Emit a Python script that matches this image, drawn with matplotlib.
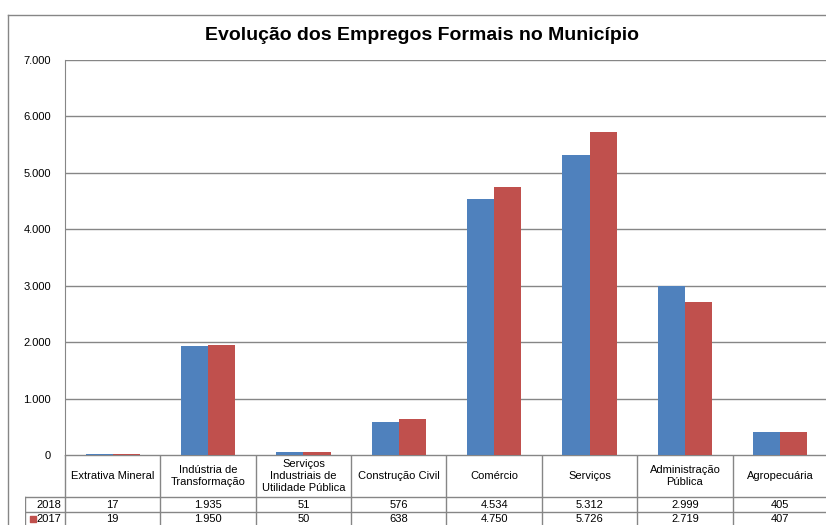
import matplotlib.pyplot as plt
import numpy as np

plt.rcParams['font.family'] = ['Liberation Sans', 'DejaVu Sans']

categorias = ['Extrativa Mineral', 'Indústria de\nTransformação',
              'Serviços\nIndustriais de\nUtilidade Pública', 'Construção Civil',
              'Comércio', 'Serviços', 'Administração\nPública', 'Agropecuária']
anos = ['2018', '2017']
v2018 = [17, 1935, 51, 576, 4534, 5312, 2999, 405]
v2017 = [19, 1950, 50, 638, 4750, 5726, 2719, 407]
yticks = [0, 1000, 2000, 3000, 4000, 5000, 6000, 7000]

azul = '#4F81BD'
vermelho = '#C0504D'
cinza = '#868686'
fs = 8

def fmt(v):
    return f'{v:,}'.replace(',', '.')

W, H = 826, 525
fig = plt.figure(figsize=(W / 100, H / 100), dpi=100)

# chart frame
fig.add_artist(plt.Line2D([8 / W, 8 / W], [0, 1 - 15 / H], color=cinza, lw=1))
fig.add_artist(plt.Line2D([8 / W, 1], [1 - 15 / H, 1 - 15 / H], color=cinza, lw=1))

x0, x1 = 65, 828
ytop, ybot = 60, 455
ax = fig.add_axes([x0 / W, 1 - ybot / H, (x1 - x0) / W, (ybot - ytop) / H])
x = np.arange(len(categorias))
bw = 0.285
ax.bar(x - bw / 2, v2018, bw, color=azul, zorder=3)
ax.bar(x + bw / 2, v2017, bw, color=vermelho, zorder=3)
ax.set_xlim(-0.5, len(categorias) - 0.5)
ax.set_ylim(0, 7000)
ax.set_yticks(yticks)
ax.set_yticklabels([fmt(t) for t in yticks], fontsize=fs)
ax.tick_params(axis='y', length=0, pad=10)
ax.set_xticks([])
ax.grid(axis='y', color=cinza, lw=1, zorder=0)
for s in ['top', 'right', 'bottom']:
    ax.spines[s].set_visible(False)
ax.spines['left'].set_color(cinza)

fig.text(422 / W, 1 - 36 / H, 'Evolução dos Empregos Formais no Município',
         ha='center', va='center', fontsize=14, fontweight='bold')

# data table
xl = 25
upp = (x1 - x0) / len(categorias)
tx0 = -0.5 - (x0 - xl) / upp
tab = fig.add_axes([xl / W, 0, (x1 - xl) / W, (H - ybot) / H])
tab.set_xlim(tx0, len(categorias) - 0.5)
tab.set_ylim(H - ybot, 0)
tab.axis('off')
r1, r2, r3 = 42, 57, 70
tab.plot([-0.5, 7.5], [0, 0], color=cinza, lw=1)
for yy in [r1, r2]:
    tab.plot([tx0, 7.5], [yy, yy], color=cinza, lw=1)
tab.plot([tx0, tx0], [r1, r3], color=cinza, lw=1)
for i in range(len(categorias) + 1):
    tab.plot([i - 0.5, i - 0.5], [0, r3], color=cinza, lw=1)
for i, c in enumerate(categorias):
    tab.text(i, r1 / 2, c, ha='center', va='center', fontsize=fs, linespacing=1.3)
    tab.text(i, (r1 + r2) / 2, fmt(v2018[i]), ha='center', va='center', fontsize=fs)
    tab.text(i, (r2 + r3) / 2 + 0.5, fmt(v2017[i]), ha='center', va='center', fontsize=fs)
tab.text(-0.5 - 0.04, (r1 + r2) / 2, anos[0], ha='right', va='center', fontsize=fs)
tab.text(-0.5 - 0.04, (r2 + r3) / 2 + 0.5, anos[1], ha='right', va='center', fontsize=fs)
tab.scatter([tx0 + 0.08], [(r2 + r3) / 2 + 0.5], marker='s', s=14, color=vermelho)

fig.savefig('out.png', dpi=100)
